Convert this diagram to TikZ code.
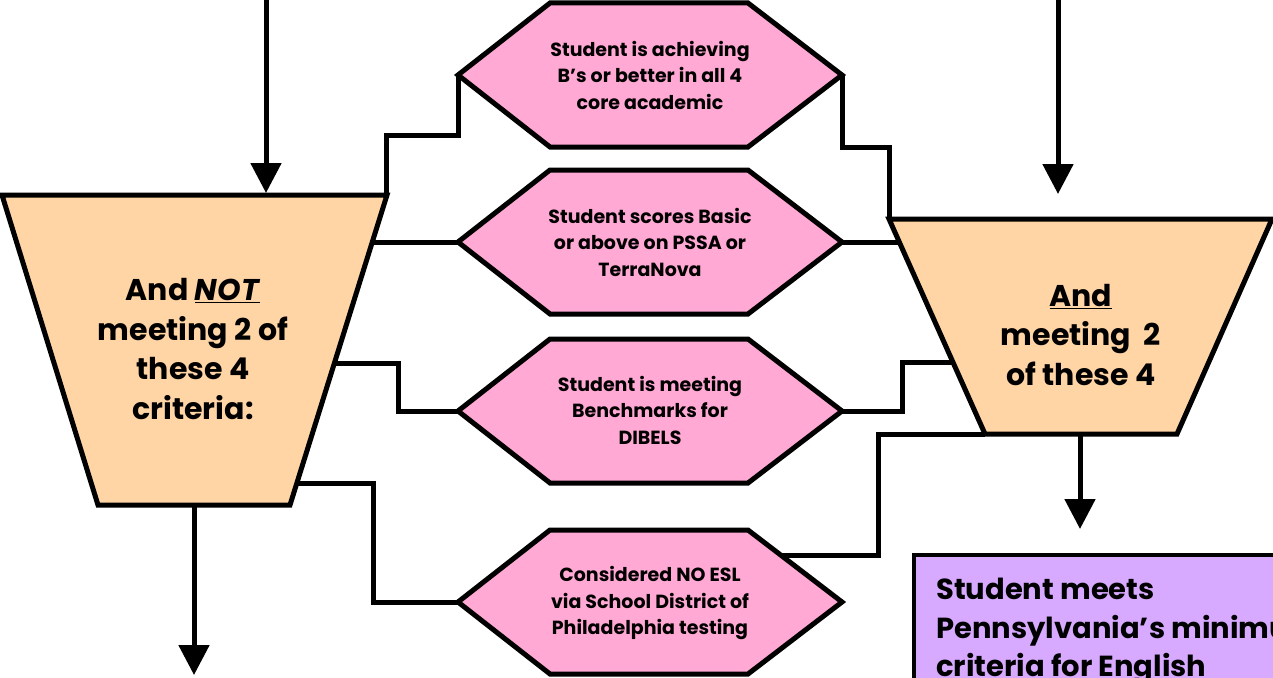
\documentclass[tikz,border=0pt]{standalone}
\usepackage{fontspec}
\setmainfont{Poppins}
\usetikzlibrary{arrows.meta}
\definecolor{hexpink}{HTML}{FFA9D4}
\definecolor{peach}{HTML}{FFD5A6}
\definecolor{lav}{HTML}{D8AAFF}
\tikzset{
  shp/.style={draw=black, line width=5pt, line join=miter},
  conn/.style={draw=black, line width=5pt},
  arr/.style={draw=black, line width=5pt, -{Triangle[width=30pt,length=30pt]}},
  hextext/.style={font=\bfseries\fontsize{19}{26.5}\selectfont, align=center, inner sep=0pt},
  traptext/.style={font=\bfseries\fontsize{30}{39.5}\selectfont, align=center, inner sep=0pt},
}
\begin{document}
\begin{tikzpicture}[x=1pt,y=-1pt]
\useasboundingbox (0,0) rectangle (1273,677);
\clip (0,0) rectangle (1273,677);
% left trapezoid
\path[shp, fill=peach] (2,195) -- (387,195) -- (290,505) -- (98,505) -- cycle;
\node[traptext] (lt) at (193,349) {And \underline{\textit{NOT}}\\meeting 2 of\\these 4\\criteria:};
% right trapezoid
\path[shp, fill=peach] (889,219) -- (1272,219) -- (1177,434) -- (985,434) -- cycle;
\node[traptext] (rt) at (1081,335) {\underline{And}\\meeting~~2\\of these 4};
% hexagons
\foreach \n/\cy in {1/75,2/242,3/411,4/602}{
  \path[shp, fill=hexpink] (458,\cy) -- (550,\cy-72) -- (748,\cy-72) -- (842,\cy) -- (748,\cy+72) -- (550,\cy+72) -- cycle;
  \coordinate (h\n l) at (458,\cy);
  \coordinate (h\n r) at (842,\cy);
}
\node[hextext] (t1) at (650,75) {Student is achieving\\B’s or better in all 4\\core academic};
\node[hextext] (t2) at (650,242) {Student scores Basic\\or above on PSSA or\\TerraNova};
\node[hextext] (t3) at (650,410) {Student is meeting\\Benchmarks for\\DIBELS};
\node[hextext] (t4) at (650,603) {Considered NO ESL\\via School District of\\Philadelphia testing};
% purple box
\path[draw=black, line width=4.5pt, fill=lav] (914,555) rectangle (1300,700);
\node[font=\bfseries\fontsize{29}{38.5}\selectfont, align=left, anchor=north west, inner sep=0pt] (pb) at (936,578) {Student meets\\Pennsylvania’s minimum\\criteria for English};
% connector anchors
\coordinate (ltA) at (386,195);
\coordinate (ltB) at (372,242);
\coordinate (ltC) at (334,363);
\coordinate (ltD) at (297,483);
\coordinate (rtA) at (889,219);
\coordinate (rtB) at (899,242);
\coordinate (rtC) at (953,362);
\coordinate (rtD) at (985,434);
\coordinate (h4e) at (780,555);
% connectors
\draw[conn] (h1l) |- (422,135) -| (ltA);
\draw[conn] (ltB) -- (h2l);
\draw[conn] (ltC) -| (398,386) |- (h3l);
\draw[conn] (ltD) -| (373,540) |- (h4l);
\draw[conn] (h1r) |- (865,147) -| (rtA);
\draw[conn] (h2r) -- (rtB);
\draw[conn] (h3r) -| (902,386) |- (rtC);
\draw[conn] (h4e) -| (878,490) |- (rtD);
% arrows
\coordinate (a1s) at (266,-10); \coordinate (a1e) at (266,193);
\coordinate (a2s) at (1058,-10); \coordinate (a2e) at (1058,194);
\coordinate (a3s) at (1080,434); \coordinate (a3e) at (1080,529);
\coordinate (a4s) at (194,505); \coordinate (a4e) at (194,675);
\draw[arr] (a1s) -- (a1e);
\draw[arr] (a2s) -- (a2e);
\draw[arr] (a3s) -- (a3e);
\draw[arr] (a4s) -- (a4e);
\end{tikzpicture}
\end{document}
